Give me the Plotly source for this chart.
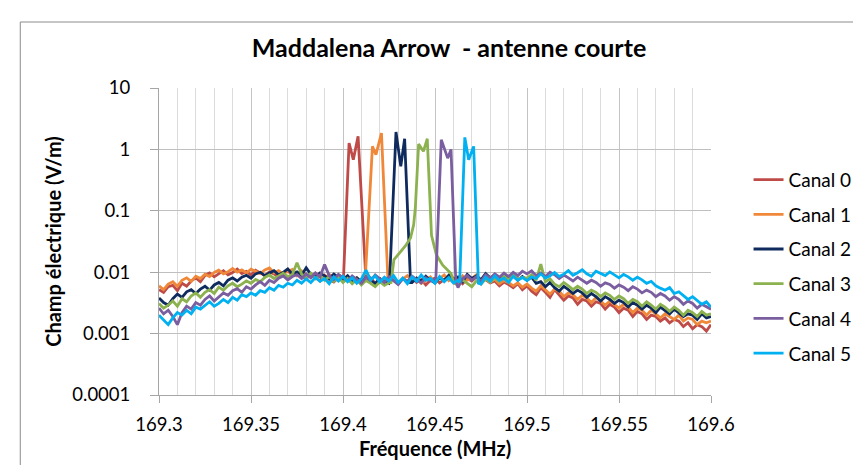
import plotly.graph_objects as go

# ---------------- data ----------------
freq = [round(169.3 + 0.0025 * i, 4) for i in range(121)]  # MHz grid of the noise floor

canal0 = [0.0052, 0.0047, 0.0058, 0.0061, 0.0050, 0.0066, 0.0059, 0.0072, 0.0081, 0.0070,
          0.0089, 0.0097, 0.0084, 0.0093, 0.0106, 0.0091, 0.0099, 0.0112, 0.0095, 0.0103,
          0.0090, 0.0108, 0.0097, 0.0088, 0.0101, 0.0094, 0.0083, 0.0098, 0.0106, 0.0089,
          0.0097, 0.0086, 0.0078, 0.0094, 0.0083, 0.0072, 0.0089, 0.0076, 0.0069, 0.0083,
          0.0074, 0.0080, 0.0071, 0.0077, 0.0069, 0.0072, 0.0081, 0.0066, 0.0078, 0.0070,
          0.0085, 0.0073, 0.0064, 0.0079, 0.0071, 0.0083, 0.0068, 0.0076, 0.0062, 0.0074,
          0.0080, 0.0067, 0.0075, 0.0086, 0.0070, 0.0077, 0.0065, 0.0079, 0.0072, 0.0084,
          0.0069, 0.0076, 0.0067, 0.0072, 0.0060, 0.0069, 0.0063, 0.0056, 0.0065, 0.0052,
          0.0060, 0.0049, 0.0043, 0.0056, 0.0047, 0.0039, 0.0052, 0.0042, 0.0035, 0.0041,
          0.0038, 0.0030, 0.0036, 0.0034, 0.0028, 0.0033, 0.0031, 0.0025, 0.0030, 0.0027,
          0.0022, 0.0026, 0.0024, 0.0019, 0.0023, 0.0021, 0.0017, 0.0020, 0.0019, 0.0016,
          0.0018, 0.0015, 0.0017, 0.0016, 0.0013, 0.0015, 0.0012, 0.0014, 0.0013, 0.0011,
          0.0014]
canal1 = [0.0060, 0.0052, 0.0064, 0.0070, 0.0059, 0.0074, 0.0081, 0.0071, 0.0086, 0.0079,
          0.0093, 0.0085, 0.0099, 0.0108, 0.0094, 0.0102, 0.0115, 0.0100, 0.0109, 0.0097,
          0.0112, 0.0103, 0.0095, 0.0109, 0.0117, 0.0098, 0.0106, 0.0093, 0.0104, 0.0111,
          0.0088, 0.0105, 0.0091, 0.0083, 0.0097, 0.0086, 0.0079, 0.0092, 0.0080, 0.0073,
          0.0085, 0.0076, 0.0068, 0.0081, 0.0072, 0.0078, 0.0070, 0.0083, 0.0075, 0.0069,
          0.0074, 0.0082, 0.0067, 0.0077, 0.0088, 0.0071, 0.0080, 0.0066, 0.0075, 0.0084,
          0.0069, 0.0078, 0.0090, 0.0073, 0.0081, 0.0068, 0.0087, 0.0074, 0.0079, 0.0091,
          0.0072, 0.0080, 0.0069, 0.0077, 0.0065, 0.0073, 0.0068, 0.0060, 0.0067, 0.0057,
          0.0064, 0.0055, 0.0049, 0.0060, 0.0051, 0.0044, 0.0053, 0.0049, 0.0040, 0.0046,
          0.0043, 0.0036, 0.0042, 0.0038, 0.0032, 0.0039, 0.0034, 0.0029, 0.0034, 0.0030,
          0.0026, 0.0030, 0.0027, 0.0022, 0.0026, 0.0024, 0.0020, 0.0024, 0.0021, 0.0018,
          0.0021, 0.0019, 0.0017, 0.0020, 0.0016, 0.0018, 0.0017, 0.0014, 0.0016, 0.0015,
          0.0016]
canal2 = [0.0038, 0.0032, 0.0029, 0.0037, 0.0044, 0.0039, 0.0048, 0.0052, 0.0045, 0.0053,
          0.0059, 0.0051, 0.0062, 0.0068, 0.0060, 0.0074, 0.0081, 0.0072, 0.0083, 0.0089,
          0.0080, 0.0094, 0.0100, 0.0088, 0.0097, 0.0106, 0.0091, 0.0099, 0.0113, 0.0093,
          0.0101, 0.0089, 0.0118, 0.0092, 0.0084, 0.0097, 0.0087, 0.0079, 0.0093, 0.0082,
          0.0076, 0.0088, 0.0072, 0.0081, 0.0069, 0.0083, 0.0074, 0.0065, 0.0079, 0.0071,
          0.0066, 0.0075, 0.0070, 0.0078, 0.0072, 0.0068, 0.0080, 0.0071, 0.0086, 0.0074,
          0.0067, 0.0082, 0.0073, 0.0089, 0.0077, 0.0084, 0.0070, 0.0092, 0.0079, 0.0087,
          0.0075, 0.0095, 0.0081, 0.0088, 0.0076, 0.0093, 0.0080, 0.0087, 0.0074, 0.0085,
          0.0074, 0.0083, 0.0066, 0.0070, 0.0058, 0.0068, 0.0056, 0.0049, 0.0059, 0.0052,
          0.0045, 0.0051, 0.0046, 0.0039, 0.0045, 0.0040, 0.0034, 0.0040, 0.0036, 0.0031,
          0.0035, 0.0032, 0.0027, 0.0032, 0.0029, 0.0025, 0.0029, 0.0026, 0.0022, 0.0027,
          0.0024, 0.0021, 0.0025, 0.0022, 0.0019, 0.0021, 0.0020, 0.0017, 0.0021, 0.0018,
          0.0019]
canal3 = [0.0031, 0.0026, 0.0029, 0.0034, 0.0028, 0.0037, 0.0033, 0.0041, 0.0046, 0.0039,
          0.0047, 0.0052, 0.0045, 0.0057, 0.0051, 0.0060, 0.0066, 0.0058, 0.0064, 0.0072,
          0.0066, 0.0076, 0.0070, 0.0082, 0.0090, 0.0079, 0.0087, 0.0096, 0.0084, 0.0092,
          0.0142, 0.0093, 0.0081, 0.0096, 0.0078, 0.0089, 0.0074, 0.0085, 0.0071, 0.0083,
          0.0068, 0.0079, 0.0065, 0.0076, 0.0062, 0.0073, 0.0066, 0.0058, 0.0070, 0.0061,
          0.0067, 0.0072, 0.0065, 0.0070, 0.0063, 0.0071, 0.0066, 0.0074, 0.0064, 0.0069,
          0.0072, 0.0063, 0.0070, 0.0066, 0.0071, 0.0062, 0.0075, 0.0066, 0.0058, 0.0072,
          0.0064, 0.0078, 0.0069, 0.0081, 0.0071, 0.0086, 0.0075, 0.0090, 0.0078, 0.0082,
          0.0080, 0.0091, 0.0074, 0.0135, 0.0070, 0.0078, 0.0064, 0.0058, 0.0068, 0.0060,
          0.0052, 0.0059, 0.0053, 0.0045, 0.0051, 0.0047, 0.0040, 0.0046, 0.0042, 0.0036,
          0.0041, 0.0037, 0.0031, 0.0036, 0.0033, 0.0028, 0.0033, 0.0029, 0.0025, 0.0030,
          0.0027, 0.0023, 0.0027, 0.0024, 0.0020, 0.0024, 0.0022, 0.0019, 0.0023, 0.0020,
          0.0021]
canal4 = [0.0026, 0.0021, 0.0024, 0.0019, 0.0014, 0.0022, 0.0028, 0.0025, 0.0032, 0.0029,
          0.0036, 0.0041, 0.0034, 0.0039, 0.0046, 0.0042, 0.0050, 0.0054, 0.0047, 0.0058,
          0.0053, 0.0062, 0.0070, 0.0061, 0.0074, 0.0068, 0.0080, 0.0087, 0.0075, 0.0085,
          0.0091, 0.0079, 0.0094, 0.0081, 0.0097, 0.0084, 0.0133, 0.0088, 0.0076, 0.0092,
          0.0080, 0.0072, 0.0087, 0.0075, 0.0066, 0.0083, 0.0073, 0.0090, 0.0077, 0.0068,
          0.0084, 0.0074, 0.0063, 0.0079, 0.0070, 0.0086, 0.0075, 0.0067, 0.0081, 0.0072,
          0.0078, 0.0070, 0.0082, 0.0074, 0.0068, 0.0056, 0.0079, 0.0088, 0.0074, 0.0085,
          0.0071, 0.0091, 0.0080, 0.0094, 0.0083, 0.0097, 0.0085, 0.0100, 0.0088, 0.0104,
          0.0094, 0.0105, 0.0088, 0.0097, 0.0084, 0.0100, 0.0091, 0.0079, 0.0090, 0.0081,
          0.0072, 0.0083, 0.0075, 0.0066, 0.0074, 0.0068, 0.0059, 0.0067, 0.0063, 0.0055,
          0.0062, 0.0057, 0.0050, 0.0058, 0.0053, 0.0046, 0.0051, 0.0047, 0.0040, 0.0045,
          0.0041, 0.0035, 0.0040, 0.0036, 0.0030, 0.0034, 0.0031, 0.0026, 0.0030, 0.0027,
          0.0025]
canal5 = [0.0020, 0.0017, 0.0014, 0.0018, 0.0022, 0.0020, 0.0024, 0.0021, 0.0027, 0.0025,
          0.0029, 0.0033, 0.0028, 0.0031, 0.0036, 0.0032, 0.0039, 0.0035, 0.0043, 0.0040,
          0.0046, 0.0042, 0.0050, 0.0047, 0.0056, 0.0051, 0.0061, 0.0057, 0.0066, 0.0062,
          0.0074, 0.0066, 0.0078, 0.0068, 0.0082, 0.0071, 0.0079, 0.0065, 0.0084, 0.0072,
          0.0086, 0.0070, 0.0081, 0.0066, 0.0078, 0.0108, 0.0075, 0.0087, 0.0069, 0.0083,
          0.0072, 0.0088, 0.0068, 0.0080, 0.0065, 0.0084, 0.0071, 0.0090, 0.0074, 0.0079,
          0.0066, 0.0085, 0.0070, 0.0082, 0.0067, 0.0074, 0.0078, 0.0070, 0.0081, 0.0073,
          0.0064, 0.0083, 0.0071, 0.0087, 0.0073, 0.0080, 0.0068, 0.0086, 0.0074, 0.0082,
          0.0073, 0.0084, 0.0079, 0.0094, 0.0080, 0.0087, 0.0099, 0.0085, 0.0093, 0.0106,
          0.0089, 0.0098, 0.0110, 0.0094, 0.0086, 0.0104, 0.0095, 0.0088, 0.0101, 0.0090,
          0.0081, 0.0092, 0.0084, 0.0074, 0.0083, 0.0075, 0.0066, 0.0071, 0.0060, 0.0055,
          0.0051, 0.0056, 0.0045, 0.0048, 0.0041, 0.0036, 0.0040, 0.0034, 0.0030, 0.0033,
          0.0027]

# carrier peaks (frequency, field) of each channel
peak0_f = [169.4003, 169.4033, 169.4056, 169.4082, 169.4121]
peak0_v = [0.0085, 1.27, 0.68, 1.63, 0.0088]
peak1_f = [169.4121, 169.4160, 169.4179, 169.4209, 169.4244]
peak1_v = [0.0080, 1.12, 0.82, 1.85, 0.0078]
peak2_f = [169.4253, 169.4288, 169.4314, 169.4335, 169.4367]
peak2_v = [0.0070, 1.92, 0.53, 1.49, 0.0068]
peak3_f = [169.4261, 169.4277, 169.4314, 169.4340, 169.4367, 169.4384, 169.4393, 169.4411,
           169.4437, 169.4458, 169.4481, 169.4508, 169.4542, 169.4587, 169.4604]
peak3_v = [0.0068, 0.016, 0.022, 0.027, 0.036, 0.059, 0.11, 1.22,
           0.93, 1.49, 0.04, 0.019, 0.013, 0.0095, 0.0066]
peak4_f = [169.4504, 169.4534, 169.4569, 169.4587, 169.4613]
peak4_v = [0.0070, 1.44, 0.72, 1.00, 0.0072]
peak5_f = [169.4634, 169.4662, 169.4683, 169.4710, 169.4736]
peak5_v = [0.0068, 1.57, 0.68, 1.12, 0.0066]

names = ["Canal 0", "Canal 1", "Canal 2", "Canal 3", "Canal 4", "Canal 5"]
colors = ["#BE4B48", "#F0883A", "#0F2B5E", "#8CB24F", "#7A5EA0", "#00B0F0"]

x_tickvals = [169.3, 169.35, 169.4, 169.45, 169.5, 169.55, 169.6]
x_ticktext = ["169.3", "169.35", "169.4", "169.45", "169.5", "169.55", "169.6"]
y_tickvals = [0.0001, 0.001, 0.01, 0.1, 1, 10]
y_ticktext = ["0.0001", "0.001", "0.01", "0.1", "1", "10"]

bases = [canal0, canal1, canal2, canal3, canal4, canal5]
peaks = [(peak0_f, peak0_v), (peak1_f, peak1_v), (peak2_f, peak2_v),
         (peak3_f, peak3_v), (peak4_f, peak4_v), (peak5_f, peak5_v)]
for b in bases:
    assert len(b) == len(freq), len(b)


def merge(base_v, pf, pv):
    pts = [(f, v) for f, v in zip(freq, base_v) if f < pf[0] or f > pf[-1]]
    pts += list(zip(pf, pv))
    pts.sort()
    return [p[0] for p in pts], [p[1] for p in pts]


FONT = "Lato, 'Open Sans', sans-serif"
fig = go.Figure()
for k in range(6):
    xs, ys = merge(bases[k], *peaks[k])
    fig.add_trace(go.Scatter(x=xs, y=ys, mode="lines", name=names[k],
                             legendgroup=names[k],
                             line=dict(color=colors[k], width=2.8)))

fig.update_layout(
    width=861, height=465,
    margin=dict(l=151, r=141, t=80, b=78),
    paper_bgcolor="white", plot_bgcolor="white",
    font=dict(family=FONT, color="#000000"),
    title=dict(text="<b>Maddalena Arrow\u00a0 - antenne courte</b>",
               x=441 / 861, xanchor="center", xref="container",
               y=1 - 40 / 465, yanchor="middle", yref="container",
               font=dict(size=25, family=FONT, color="#000000")),
    showlegend=True,
    legend=dict(x=1.068, xanchor="left", y=0.763, yanchor="top",
                font=dict(size=19, family=FONT, color="#000000"),
                tracegroupgap=7, bgcolor="rgba(0,0,0,0)"),
)
fig.update_xaxes(range=[169.3, 169.6], tickvals=x_tickvals, ticktext=x_ticktext,
                 showgrid=True, gridcolor="#c4c4c4", gridwidth=1,
                 minor=dict(dtick=0.01, tick0=169.3, showgrid=True, gridcolor="#dcdcdc",
                            gridwidth=1, ticks=""),
                 showline=True, linecolor="#a6a6a6", linewidth=1,
                 ticks="outside", ticklen=7, tickcolor="#a6a6a6",
                 ticklabelstandoff=6,
                 tickfont=dict(size=18.5, family=FONT, color="#000000"),
                 zeroline=False)
fig.update_yaxes(type="log", range=[-4, 1], tickvals=y_tickvals, ticktext=y_ticktext,
                 showgrid=True, gridcolor="#bfbfbf", gridwidth=1,
                 showline=True, linecolor="#a6a6a6", linewidth=1,
                 ticks="outside", ticklen=8, tickcolor="#a6a6a6",
                 ticklabelstandoff=16,
                 tickfont=dict(size=18.5, family=FONT, color="#000000"),
                 zeroline=False)

fig.add_annotation(text="<b>Champ électrique (V/m)</b>", textangle=-90,
                   xref="paper", yref="paper", x=(41 - 151) / 569, y=0.5,
                   xanchor="center", yanchor="middle", showarrow=False,
                   font=dict(size=20, family=FONT, color="#000000"))
fig.add_annotation(text="<b>Fréquence (MHz)</b>",
                   xref="paper", yref="paper", x=0.5, y=(387 - 440) / 307,
                   xanchor="center", yanchor="middle", showarrow=False,
                   font=dict(size=20, family=FONT, color="#000000"))

# chart-area frame (top and left edges visible)
fig.add_shape(type="line", xref="paper", yref="paper",
              x0=(8 - 151) / 569, x1=(870 - 151) / 569, y0=(387 - 14) / 307, y1=(387 - 14) / 307,
              line=dict(color="#8c8c8c", width=1))
fig.add_shape(type="line", xref="paper", yref="paper",
              x0=(8 - 151) / 569, x1=(8 - 151) / 569, y0=(387 - 14) / 307, y1=(387 - 475) / 307,
              line=dict(color="#8c8c8c", width=1))

fig.write_html("out.html")
